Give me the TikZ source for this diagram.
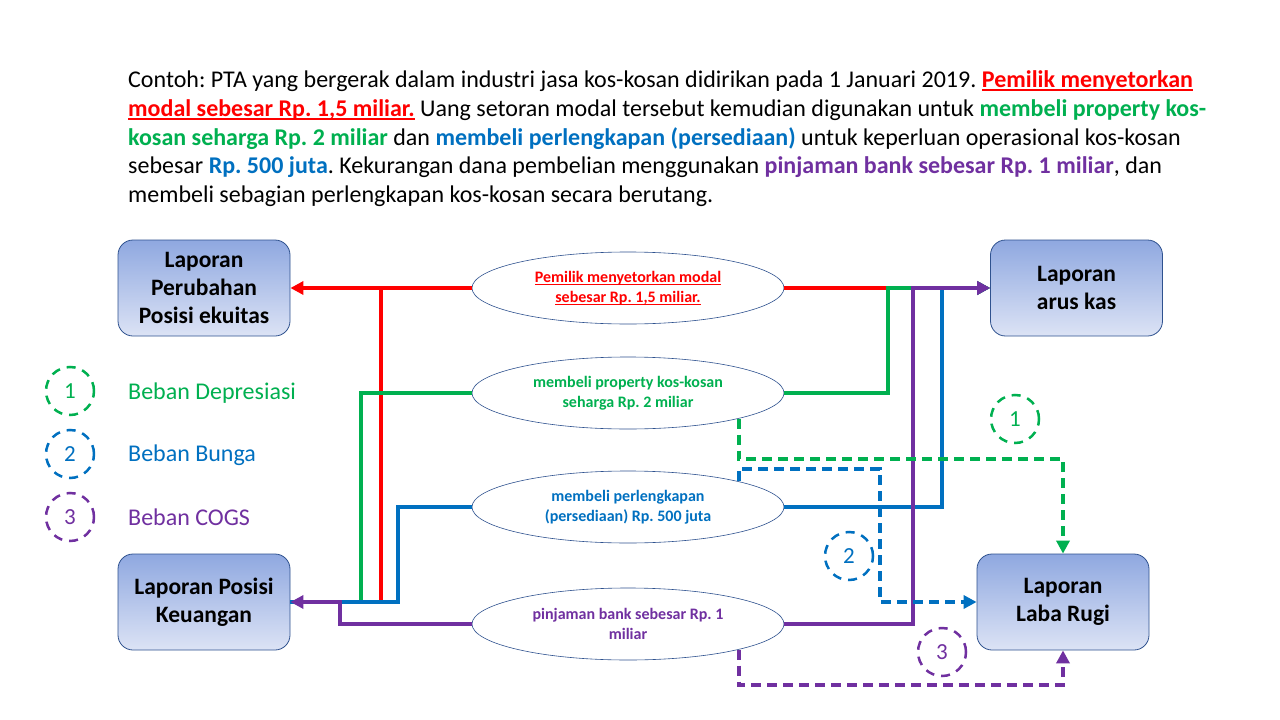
\documentclass[tikz,border=0pt]{standalone}
\usepackage{fontspec}
\setmainfont{Carlito}
\usetikzlibrary{arrows.meta,shapes.geometric,calc}
\definecolor{cred}{RGB}{255,0,0}
\definecolor{cgreen}{RGB}{0,176,80}
\definecolor{cblue}{RGB}{0,112,192}
\definecolor{cpurple}{RGB}{112,48,160}
\definecolor{cborder}{RGB}{47,82,143}
\definecolor{ctop}{RGB}{143,168,224}
\definecolor{cbot}{RGB}{220,227,245}
\newcommand\myul[3]{\setbox0\hbox{#3}\rlap{\rule[#1]{\wd0}{#2}}\box0}
\frenchspacing
\begin{document}
\begin{tikzpicture}[x=1pt,y=-1pt,
  report/.style={rectangle, rounded corners=15pt, draw=cborder, line width=0.8pt,
    top color=ctop, bottom color=cbot, minimum width=172pt, minimum height=96pt,
    align=center, font=\fontsize{23.5}{28}\selectfont\bfseries, inner sep=0pt},
  event/.style={ellipse, draw=cborder, line width=0.6pt, fill=white,
    minimum width=312pt, minimum height=72pt, inner sep=0pt, align=center,
    font=\fontsize{16}{20}\selectfont\bfseries},
  conn/.style={line width=4pt},
  tip/.style={-{Triangle[length=13pt,width=13pt]}},
  dashconn/.style={line width=3.5pt, dash pattern=on 10pt off 6pt},
  numc/.style={circle, draw, line width=2.5pt, dash pattern=on 9pt off 7pt,
    minimum size=48pt, inner sep=0pt, font=\fontsize{23}{23}\selectfont},
  para/.style={inner sep=0pt, anchor=base west, font=\fontsize{24}{28}\selectfont},
  legend/.style={inner sep=0pt, anchor=west, font=\fontsize{24}{28}\selectfont}
]
\fill[white] (0,0) rectangle (1280,720);
\useasboundingbox (0,0) rectangle (1280,720);

% paragraph
\node[para] (l1) at (128,87) {Contoh: PTA yang bergerak dalam industri jasa kos-kosan didirikan pada 1 Januari 2019. \textcolor{cred}{\bfseries\myul{-4pt}{2pt}{Pemilik menyetorkan}}};
\node[para] (l2) at (128,116) {\textcolor{cred}{\bfseries\myul{-4pt}{2pt}{modal sebesar Rp. 1,5 miliar.}} Uang setoran modal tersebut kemudian digunakan untuk \textcolor{cgreen}{\bfseries membeli property kos-}};
\node[para] (l3) at (128,145) {\textcolor{cgreen}{\bfseries kosan seharga Rp. 2 miliar} dan \textcolor{cblue}{\bfseries membeli perlengkapan (persediaan)} untuk keperluan operasional kos-kosan};
\node[para] (l4) at (128,173) {sebesar \textcolor{cblue}{\bfseries Rp. 500 juta}. Kekurangan dana pembelian menggunakan \textcolor{cpurple}{\bfseries pinjaman bank sebesar Rp. 1 miliar}, dan};
\node[para] (l5) at (128,202) {membeli sebagian perlengkapan kos-kosan secara berutang.};

% report boxes
\node[report] (eq) at (204,288) {Laporan\\Perubahan\\Posisi ekuitas};
\node[report] (ak) at (1076.5,288) {Laporan\\arus kas};
\node[report] (pk) at (204,602) {Laporan Posisi\\Keuangan};
\node[report] (lr) at (1063,602) {Laporan\\Laba Rugi};

% events
\node[event, text=cred] (e1) at (628,288) {\myul{-2.5pt}{1pt}{Pemilik menyetorkan modal}\\\myul{-2.5pt}{1pt}{sebesar Rp. 1,5 miliar.}};
\node[event, text=cgreen] (e2) at (628,393) {membeli property kos-kosan\\seharga Rp. 2 miliar};
\node[event, text=cblue] (e3) at (628,507) {membeli perlengkapan\\(persediaan) Rp. 500 juta};
\node[event, text=cpurple] (e4) at (628,624) {pinjaman bank sebesar Rp. 1\\miliar};

% turning points
\coordinate (rL) at (381,602);
\coordinate (gL) at (361,602);
\coordinate (bL) at (398,602);
\coordinate (pL) at (340,602);
\coordinate (gR) at (888,288);
\coordinate (bR) at (942,288);
\coordinate (pR) at (913,288);
\coordinate (gD) at (1063,459);
\coordinate (bD) at (880,469);
\coordinate (pD) at (1063,685);

% left connectors
\draw[conn, cred, tip] (e1.west) -- (eq.east);
\draw[conn, cred] (e1.west) -| (rL) -- (pk.east);
\draw[conn, cgreen] (e2.west) -| (gL) -- (pk.east);
\draw[conn, cblue] (e3.west) -| (bL) -- (pk.east);
\draw[conn, cpurple, tip] (e4.west) -| (pL) -- (pk.east);

% right connectors
\draw[conn, cred, tip] (e1.east) -- (ak.west);
\draw[conn, cgreen, tip] (e2.east) -| (gR) -- (ak.west);
\draw[conn, cblue, tip] (e3.east) -| (bR) -- (ak.west);
\draw[conn, cpurple, tip] (e4.east) -| (pR) -- (ak.west);

% dashed connectors to Laba Rugi
\draw[dashconn, cgreen, tip] (e2.-13.4) |- (gD) -- (lr.north);
\draw[dashconn, cblue, tip] (e3.13.4) |- (bD) |- (lr.west);
\draw[dashconn, cpurple, tip] (e4.-13.4) |- (pD) -- (lr.south);

% numbered circles
\node[numc, draw=cgreen, text=cgreen] (n1) at (1015,419) {1};
\node[numc, draw=cblue, text=cblue] (n2) at (849,556) {2};
\node[numc, draw=cpurple, text=cpurple] (n3) at (942,652) {3};

% legend
\node[numc, draw=cgreen, text=cgreen] (k1) at (70,391) {1};
\node[numc, draw=cblue, text=cblue] (k2) at (70,454) {2};
\node[numc, draw=cpurple, text=cpurple] (k3) at (70,517) {3};
\node[legend, text=cgreen] (t1) at (128,393) {Beban Depresiasi};
\node[legend, text=cblue] (t2) at (128,455) {Beban Bunga};
\node[legend, text=cpurple] (t3) at (128,517) {Beban COGS};
\end{tikzpicture}
\end{document}
